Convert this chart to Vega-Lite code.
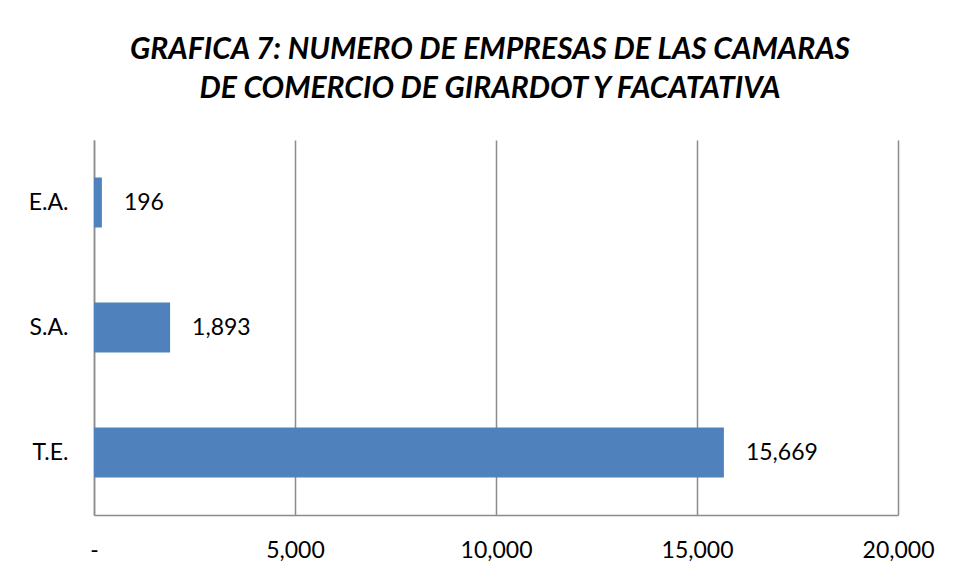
{
  "$schema": "https://vega.github.io/schema/vega-lite/v6.json",
  "width": 804,
  "height": 375,
  "autosize": {"type": "none"},
  "padding": {"left": 94, "top": 140, "right": 64, "bottom": 63},
  "background": "white",
  "title": {
    "text": ["GRAFICA 7: NUMERO DE EMPRESAS DE LAS CAMARAS", "DE COMERCIO DE GIRARDOT Y FACATATIVA"],
    "font": "Lato",
    "fontSize": 30,
    "fontWeight": "bold",
    "fontStyle": "italic",
    "color": "black",
    "anchor": "middle",
    "lineHeight": 39,
    "offset": 36,
    "dx": -6
  },
  "data": {
    "values": [
      {"tipo": "E.A.", "empresas": 196},
      {"tipo": "S.A.", "empresas": 1893},
      {"tipo": "T.E.", "empresas": 15669}
    ]
  },
  "encoding": {
    "y": {
      "field": "tipo",
      "type": "nominal",
      "sort": ["E.A.", "S.A.", "T.E."],
      "scale": {"paddingInner": 0.6, "paddingOuter": 0.3},
      "axis": {
        "title": null,
        "labelFont": "Lato",
        "labelFontSize": 23,
        "labelColor": "black",
        "labelPadding": 26,
        "ticks": false,
        "domainColor": "#8c8c8c",
        "domainWidth": 1.5,
        "grid": false
      }
    },
    "x": {
      "field": "empresas",
      "type": "quantitative",
      "scale": {"domain": [0, 20000], "nice": false},
      "axis": {
        "title": null,
        "values": [0, 5000, 10000, 15000, 20000],
        "labelExpr": "datum.value == 0 ? '-' : format(datum.value, ',')",
        "labelFont": "Lato",
        "labelFontSize": 23,
        "labelColor": "black",
        "labelPadding": 24,
        "labelAlign": "center",
        "labelFlush": false,
        "ticks": false,
        "grid": true,
        "gridColor": "#8c8c8c",
        "gridWidth": 1.5,
        "domainColor": "#8c8c8c",
        "domainWidth": 1.5
      }
    }
  },
  "layer": [
    {"mark": {"type": "bar", "color": "#4f81bd"}},
    {
      "mark": {"type": "text", "align": "left", "baseline": "middle", "dx": 22, "font": "Lato", "fontSize": 23, "color": "black"},
      "encoding": {"text": {"field": "empresas", "type": "quantitative", "format": ","}}
    }
  ],
  "config": {"view": {"stroke": null}}
}
